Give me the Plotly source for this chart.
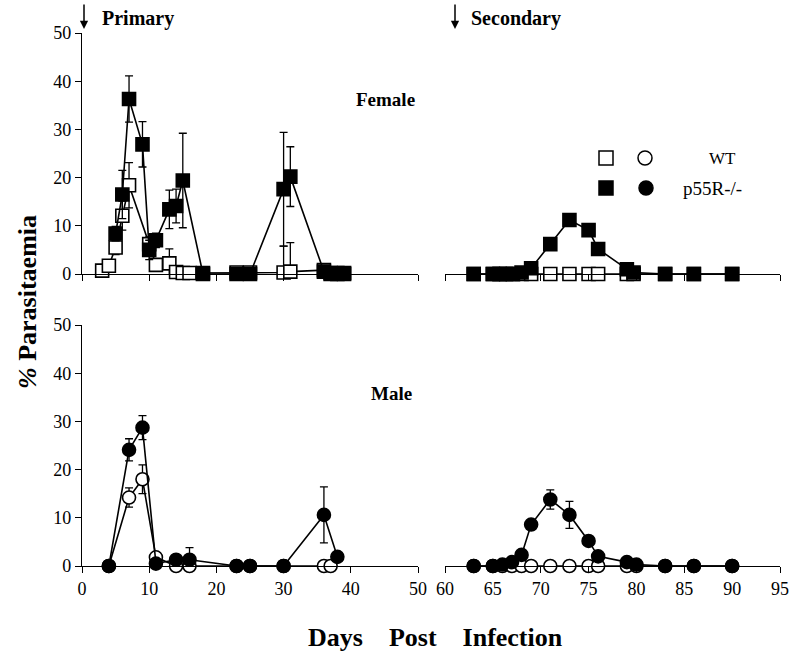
import plotly.graph_objects as go

W, H = 791, 653

# ---------------- data ----------------
# Female, primary infection
f_wt_days = [3, 4, 5, 6, 7, 10, 11, 13, 14, 15, 16, 18, 23, 25, 30, 31, 36, 37, 38, 39]
f_wt_vals = [0.7, 1.7, 5.5, 12.1, 18.4, 6.2, 1.9, 2.2, 0.4, 0.2, 0.2, 0.2, 0.3, 0.3, 0.3, 0.5, 0.8, 0.2, 0.2, 0.2]
f_wt_err = [0, 0, 1.5, 3.0, 4.7, 1.5, 0, 3.0, 0, 0, 0, 0, 0, 0, 5.5, 6.0, 0, 0, 0, 0]

f_ko_days = [5, 6, 7, 9, 10, 11, 13, 14, 15, 18, 23, 25, 30, 31, 36, 37, 38, 39]
f_ko_vals = [8.4, 16.5, 36.3, 26.9, 5.0, 7.0, 13.4, 14.1, 19.4, 0, 0, 0, 17.6, 20.2, 0.5, 0, 0, 0]
f_ko_err = [1.5, 5.0, 4.8, 4.7, 2.0, 1.5, 4.0, 3.5, 9.8, 0, 0, 0, 11.8, 6.2, 0, 0, 0, 0]

# Female, secondary infection
f2_days = [63, 65, 65.7, 66.4, 67.1, 68, 69, 71, 73, 75, 76, 79, 79.7, 83, 86, 90]
f2_wt_vals = [0, 0, 0, 0, 0, 0, 0, 0, 0, 0, 0, 0, 0, 0, 0, 0]
f2_ko_vals = [0, 0, 0, 0, 0, 0.3, 1.2, 6.2, 11.2, 9.1, 5.2, 1.0, 0.3, 0, 0, 0]

# Male, primary infection
m_wt_days = [4, 7, 9, 11, 14, 16, 23, 25, 30, 36, 37]
m_wt_vals = [0, 14.2, 18.0, 1.8, 0, 0, 0, 0, 0, 0, 0]
m_wt_err = [0, 2.0, 3.0, 0, 0, 0, 0, 0, 0, 0, 0]

m_ko_days = [4, 7, 9, 11, 14, 16, 23, 25, 30, 36, 38]
m_ko_vals = [0, 24.1, 28.7, 0.5, 1.3, 1.3, 0, 0, 0, 10.6, 1.9]
m_ko_err = [0, 2.3, 2.5, 0, 0, 2.5, 0, 0, 0, 5.8, 0]

# Male, secondary infection
m2_days = [63, 65, 66, 67, 68, 69, 71, 73, 75, 76, 79, 80, 83, 86, 90]
m2_wt_vals = [0, 0, 0, 0, 0, 0, 0, 0, 0, 0, 0, 0, 0, 0, 0]
m2_ko_vals = [0, 0, 0.3, 0.8, 2.3, 8.6, 13.8, 10.6, 5.2, 2.0, 0.8, 0.3, 0, 0, 0]
m2_ko_err = [0, 0, 0, 0, 0, 0, 2.0, 2.8, 0, 0, 0, 0, 0, 0, 0]

left_ticks = [0, 10, 20, 30, 40, 50]
right_ticks = [60, 65, 70, 75, 80, 85, 90, 95]
y_ticks = [0, 10, 20, 30, 40, 50]

SERIF = "Liberation Serif"

# ---------------- figure ----------------
fig = go.Figure()


def add_series(x, y, err, xa, ya, symbol, filled):
    kw = {}
    if err is not None:
        kw["error_y"] = dict(type="data", array=err, visible=True,
                             color="black", thickness=1.3, width=4)
    fig.add_trace(go.Scatter(
        x=x, y=y, xaxis=xa, yaxis=ya, mode="lines+markers",
        line=dict(color="black", width=1.6),
        marker=dict(symbol=symbol, size=13,
                    color="black" if filled else "white",
                    line=dict(color="black", width=1.6)),
        cliponaxis=False, showlegend=False, **kw))


# top-left (female primary)
add_series(f_wt_days, f_wt_vals, f_wt_err, "x", "y", "square", False)
add_series(f_ko_days, f_ko_vals, f_ko_err, "x", "y", "square", True)
# top-right (female secondary)
add_series(f2_days, f2_wt_vals, None, "x2", "y2", "square", False)
add_series(f2_days, f2_ko_vals, None, "x2", "y2", "square", True)
# bottom-left (male primary)
add_series(m_wt_days, m_wt_vals, m_wt_err, "x3", "y3", "circle", False)
add_series(m_ko_days, m_ko_vals, m_ko_err, "x3", "y3", "circle", True)
# bottom-right (male secondary)
add_series(m2_days, m2_wt_vals, None, "x4", "y4", "circle", False)
add_series(m2_days, m2_ko_vals, m2_ko_err, "x4", "y4", "circle", True)


def px(x):
    return x / W


def py(y):
    return 1 - y / H


xl = [px(82), px(418)]
xr = [px(445), px(780)]
yt = [py(274), py(33)]
yb = [py(566), py(325)]

tickfont = dict(family=SERIF, size=18, color="black")


def xaxis(domain, anchor, rng, ticks, labels):
    return dict(domain=domain, anchor=anchor, range=rng, tickvals=ticks,
                showticklabels=labels, ticks="outside", ticklen=6, tickwidth=1.2,
                tickcolor="black", showline=True, linecolor="black", linewidth=1.3,
                showgrid=False, zeroline=False, tickfont=tickfont, automargin=False)


def yaxis(domain, anchor, show):
    if show:
        return dict(domain=domain, anchor=anchor, range=[0, 50], tickvals=y_ticks,
                    ticks="outside", ticklen=6, tickwidth=1.2, tickcolor="black",
                    showline=True, linecolor="black", linewidth=1.3,
                    showgrid=False, zeroline=False, tickfont=tickfont, automargin=False)
    return dict(domain=domain, anchor=anchor, range=[0, 50], showline=False,
                showticklabels=False, ticks="", showgrid=False, zeroline=False,
                automargin=False)


fig.update_layout(
    width=W, height=H,
    margin=dict(l=0, r=0, t=0, b=0, autoexpand=False),
    plot_bgcolor="white", paper_bgcolor="white",
    xaxis=xaxis(xl, "y", [0, 50], left_ticks, False),
    yaxis=yaxis(yt, "x", True),
    xaxis2=xaxis(xr, "y2", [60, 95], right_ticks, False),
    yaxis2=yaxis(yt, "x2", False),
    xaxis3=xaxis(xl, "y3", [0, 50], left_ticks, True),
    yaxis3=yaxis(yb, "x3", True),
    xaxis4=xaxis(xr, "y4", [60, 95], right_ticks, True),
    yaxis4=yaxis(yb, "x4", False),
    font=dict(family=SERIF, color="black"),
)


def label(x, y, text, size=16, xanchor="center", angle=0):
    return dict(x=px(x), y=py(y), xref="paper", yref="paper", text=text,
                showarrow=False, xanchor=xanchor, yanchor="middle",
                textangle=angle, font=dict(family=SERIF, size=size))


ann = []
# arrows
for xa in (84, 455):
    ann.append(dict(x=px(xa), y=py(29), xref="paper", yref="paper", text="",
                    showarrow=True, ax=0, ay=-26, arrowhead=2, arrowsize=1.1,
                    arrowwidth=1.5, arrowcolor="black"))
ann.append(label(100, 18, "<b>Primary</b>", size=20, xanchor="left"))
ann.append(label(469, 18, "<b>Secondary</b>", size=20, xanchor="left"))
ann.append(label(385, 100, "<b>Female</b>", size=19))
ann.append(label(391, 393, "<b>Male</b>", size=19))
ann.append(label(722, 158, "WT", size=17))
ann.append(label(712, 188, "p55R-/-", size=19))
ann.append(label(436, 637, "<b>Days    Post    Infection</b>", size=26))
ann.append(label(27, 302, "<b><i>%</i> Parasitaemia</b>", size=26, angle=-90))
fig.update_layout(annotations=ann)

# legend symbols
shapes = []
for (cx, cy, kind, filled) in [(606, 158, "rect", False), (645, 158, "circle", False),
                               (606, 188, "rect", True), (646, 188, "circle", True)]:
    shapes.append(dict(type=kind, xref="paper", yref="paper",
                       xsizemode="pixel", ysizemode="pixel",
                       xanchor=px(cx), yanchor=py(cy),
                       x0=-7, x1=7, y0=-7, y1=7,
                       fillcolor="black" if filled else "white",
                       line=dict(color="black", width=1.5)))
fig.update_layout(shapes=shapes)

fig.write_html("out.html")
